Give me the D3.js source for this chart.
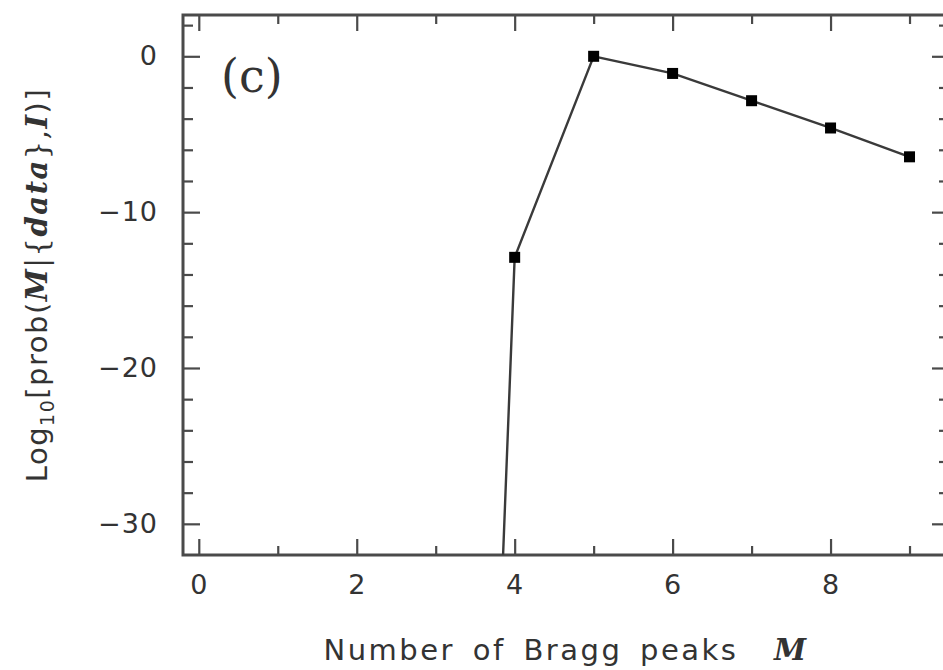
<!DOCTYPE html>
<html>
<head>
<meta charset="utf-8">
<script src="https://cdn.jsdelivr.net/npm/d3@7"></script>
<style>
  html, body { margin: 0; padding: 0; background: #fff; }
  svg { display: block; }
  .tick text { font-family: "DejaVu Sans", sans-serif; }
</style>
</head>
<body>
<svg id="chart" width="943" height="670"></svg>
<script>
// Number of Bragg peaks M and the log10 posterior probability for each
const peakCounts = [3, 4, 5, 6, 7, 8, 9];
const logProb = [-143, -12.9, 0, -1.1, -2.85, -4.6, -6.45];

const xMajorTicks = [0, 2, 4, 6, 8];
const xMinorTicks = [1, 3, 5, 7, 9];
const yMajorTicks = [0, -10, -20, -30];
const yMinorTicks = [2, -2, -4, -6, -8, -12, -14, -16, -18, -22, -24, -26, -28];

const panelLabel = "(c)";

const svg = d3.select("#chart");
const plotLeft = 183, plotRight = 949, plotTop = 15, plotBottom = 555;

const x = d3.scaleLinear().domain([-0.2, 9.5]).range([plotLeft, plotRight]);
const y = d3.scaleLinear().domain([-32, 2.65]).range([plotBottom, plotTop]);

const axisColor = "#4a4a4a";

// clip region for the data line
svg.append("defs").append("clipPath").attr("id", "plotClip")
  .append("rect").attr("x", plotLeft).attr("y", plotTop)
  .attr("width", plotRight - plotLeft).attr("height", plotBottom - plotTop);

function styleAxis(g) {
  g.select(".domain").remove();
  g.selectAll(".tick line").attr("stroke", axisColor).attr("stroke-width", 2.2);
  g.selectAll(".tick text").attr("fill", "#333").attr("font-size", 27)
    .attr("letter-spacing", 1);
}

// bottom axis: labels + inward ticks
svg.append("g").attr("transform", `translate(0,${plotBottom})`)
  .call(d3.axisTop(x).tickValues(xMajorTicks).tickSize(16).tickFormat(""))
  .call(styleAxis);
svg.append("g").attr("transform", `translate(0,${plotBottom})`)
  .call(d3.axisTop(x).tickValues(xMinorTicks).tickSize(9).tickFormat(""))
  .call(styleAxis);
svg.append("g").attr("transform", `translate(0,${plotBottom})`)
  .call(d3.axisBottom(x).tickValues(xMajorTicks).tickSize(0).tickPadding(20).tickFormat(d3.format("d")))
  .call(styleAxis);

// top axis (inward ticks)
svg.append("g").attr("transform", `translate(0,${plotTop})`)
  .call(d3.axisBottom(x).tickValues(xMajorTicks).tickSize(16).tickFormat(""))
  .call(styleAxis);
svg.append("g").attr("transform", `translate(0,${plotTop})`)
  .call(d3.axisBottom(x).tickValues(xMinorTicks).tickSize(9).tickFormat(""))
  .call(styleAxis);

// left axis
svg.append("g").attr("transform", `translate(${plotLeft},0)`)
  .call(d3.axisRight(y).tickValues(yMajorTicks).tickSize(17).tickFormat(""))
  .call(styleAxis);
svg.append("g").attr("transform", `translate(${plotLeft},0)`)
  .call(d3.axisRight(y).tickValues(yMinorTicks).tickSize(10).tickFormat(""))
  .call(styleAxis);
svg.append("g").attr("transform", `translate(${plotLeft},0)`)
  .call(d3.axisLeft(y).tickValues(yMajorTicks).tickSize(0).tickPadding(25)
    .tickFormat(d => d < 0 ? "\u2212" + Math.abs(d) : String(d)))
  .call(styleAxis);

// right axis
svg.append("g").attr("transform", `translate(${plotRight},0)`)
  .call(d3.axisLeft(y).tickValues(yMajorTicks).tickSize(17).tickFormat(""))
  .call(styleAxis);
svg.append("g").attr("transform", `translate(${plotRight},0)`)
  .call(d3.axisLeft(y).tickValues(yMinorTicks).tickSize(10).tickFormat(""))
  .call(styleAxis);

// frame
svg.append("rect").attr("x", plotLeft).attr("y", plotTop)
  .attr("width", plotRight - plotLeft).attr("height", plotBottom - plotTop)
  .attr("fill", "none").attr("stroke", axisColor).attr("stroke-width", 3);

// data line
const pts = peakCounts.map((m, i) => ({ m, v: logProb[i] }));
svg.append("path").datum(pts)
  .attr("clip-path", "url(#plotClip)")
  .attr("fill", "none").attr("stroke", "#3a3a3a").attr("stroke-width", 2.4)
  .attr("d", d3.line().x(d => x(d.m)).y(d => y(d.v)));

// square markers for points inside the plotted range
const ms = 11;
svg.append("g").selectAll("rect")
  .data(pts.filter(d => d.v >= y.domain()[0]))
  .join("rect")
  .attr("x", d => x(d.m) - ms / 2).attr("y", d => y(d.v) - ms / 2)
  .attr("width", ms).attr("height", ms).attr("fill", "#000");

// panel label
svg.append("text").attr("x", 221).attr("y", 92)
  .attr("font-family", "DejaVu Serif, serif").attr("font-size", 46).attr("fill", "#333")
  .text(panelLabel);

// x-axis title
const xt = svg.append("text").attr("x", 566).attr("y", 660)
  .attr("text-anchor", "middle").attr("fill", "#333")
  .attr("font-family", "DejaVu Sans, sans-serif").attr("font-size", 29)
  .attr("letter-spacing", 2.5).attr("word-spacing", 6);
xt.append("tspan").text("Number of Bragg peaks\u00a0\u00a0");
xt.append("tspan").attr("font-family", "DejaVu Serif, serif").attr("font-style", "italic")
  .attr("font-weight", "bold").text("M");

// y-axis title
const yt = svg.append("text")
  .attr("transform", "translate(47,285) rotate(-90)")
  .attr("text-anchor", "middle").attr("fill", "#333")
  .attr("font-family", "DejaVu Sans, sans-serif").attr("font-size", 29)
  .attr("letter-spacing", 1.5);
yt.append("tspan").text("Log");
yt.append("tspan").attr("font-size", 19).attr("dy", 7).text("10");
yt.append("tspan").attr("dy", -7).text("[prob(");
const serifBI = t => yt.append("tspan").attr("font-family", "DejaVu Serif, serif")
  .attr("font-style", "italic").attr("font-weight", "bold").text(t);
serifBI("M");
yt.append("tspan").attr("font-family", "DejaVu Serif, serif").text("|{");
serifBI("data");
yt.append("tspan").attr("font-family", "DejaVu Serif, serif").text("},");
serifBI("I");
yt.append("tspan").text(")]");
</script>
</body>
</html>
